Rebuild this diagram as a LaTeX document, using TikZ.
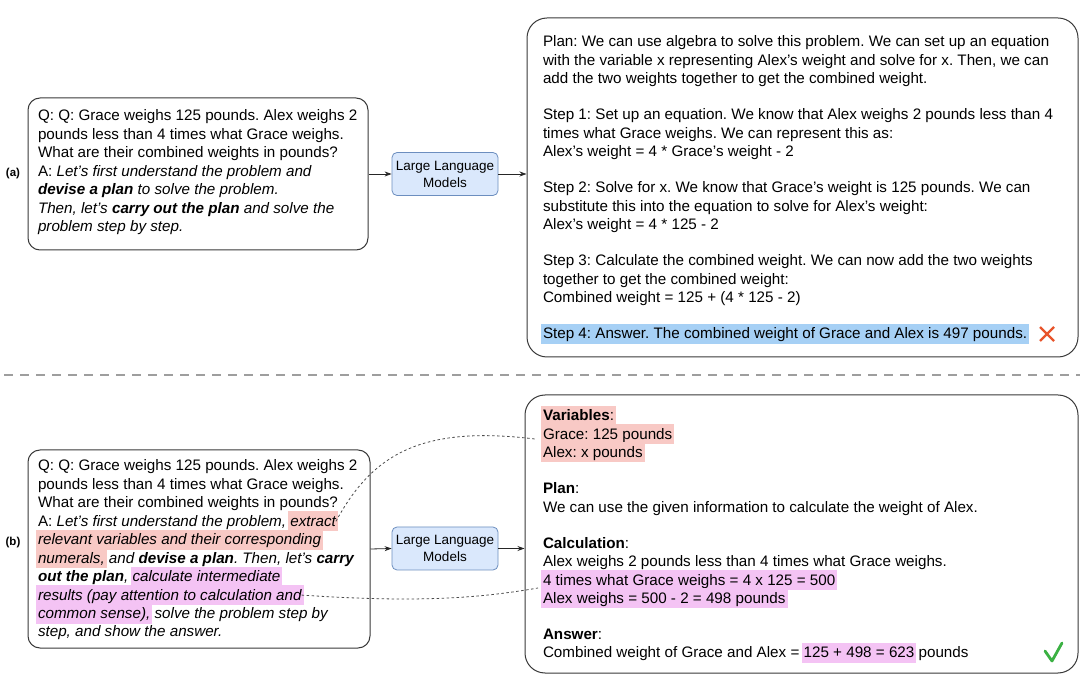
\documentclass[tikz,border=0pt]{standalone}
\usepackage{fontspec}
\setmainfont{Liberation Sans}
\usetikzlibrary{arrows.meta}
\definecolor{hlred}{HTML}{F8C9C5}
\definecolor{hlvio}{HTML}{F4C3F4}
\definecolor{hlblue}{HTML}{A6D0F5}
\definecolor{llmfill}{HTML}{DAE8FC}
\definecolor{llmdraw}{HTML}{6C8EBF}
\definecolor{boxdraw}{HTML}{3A3A3A}
\definecolor{crossred}{HTML}{E8542B}
\definecolor{checkgreen}{HTML}{3BB143}
\newcommand\hlbox[2]{{\setlength{\fboxsep}{0pt}\kern-2pt\colorbox{#1}{\rule[-5pt]{0pt}{20pt}\kern2pt#2\kern2pt}\kern-2pt}}
\tikzset{
  txt/.style={anchor=base west, inner sep=0pt, outer sep=0pt, font=\fontsize{15.2}{18}\selectfont\frenchspacing},
  qbox/.style={draw=boxdraw, line width=1pt, rounded corners=12pt, fill=white, inner sep=0pt},
  obox/.style={draw=boxdraw, line width=1pt, rounded corners=20pt, fill=white, inner sep=0pt},
  llm/.style={draw=llmdraw, fill=llmfill, line width=0.8pt, rounded corners=5pt, align=center,
    minimum width=106, minimum height=43, inner sep=0pt, font=\fontsize{13.5}{17}\selectfont},
  arr/.style={-{Stealth[length=7pt,width=5pt]}, line width=0.8pt, draw=black!85},
  lnk/.style={draw=black!70, line width=0.8pt, dash pattern=on 2.5pt off 2.5pt},
  sepline/.style={draw=black!38, line width=2pt, dash pattern=on 9pt off 7pt},
  tag/.style={inner sep=0pt, font=\bfseries\fontsize{11.5}{13}\selectfont},
}
\begin{document}
\begin{tikzpicture}[x=1pt, y=-1pt]
\fill[white] (0,0) rectangle (1080,692);
\useasboundingbox (0,0) rectangle (1080,692);

% separator
\coordinate (sepl) at (4,375);
\coordinate (sepr) at (1080,375);
\draw[sepline] (sepl) -- (sepr);

% ---------------- (a) ----------------
\node[tag] (taga) at (13,174) {(a)};
\node[qbox, minimum width=340, minimum height=152] (qa) at (198,174) {};
\node[llm] (llma) at (445,174) {Large Language\\Models};
\node[obox, minimum width=551, minimum height=339] (oa) at (802.5,187.5) {};

\foreach \myline [count=\i from 0] in {
  {Q: Q: Grace weighs 125 pounds. Alex weighs 2},
  {pounds less than 4 times what Grace weighs.},
  {What are their combined weights in pounds?},
  {A: \textit{Let's first understand the problem and}},
  {\textit{\textbf{devise a plan} to solve the problem.}},
  {\textit{Then, let's \textbf{carry out the plan} and solve the}},
  {\textit{problem step by step.}}}
  \node[txt] (qa\i) at (38,121+18.5*\i) {\myline};

\foreach \myline [count=\i from 0] in {
  {Plan: We can use algebra to solve this problem. We can set up an equation},
  {with the variable x representing Alex's weight and solve for x. Then, we can},
  {add the two weights together to get the combined weight.},
  {},
  {Step 1: Set up an equation. We know that Alex weighs 2 pounds less than 4},
  {times what Grace weighs. We can represent this as:},
  {Alex's weight = 4 * Grace's weight - 2},
  {},
  {Step 2: Solve for x. We know that Grace's weight is 125 pounds. We can},
  {substitute this into the equation to solve for Alex's weight:},
  {Alex's weight = 4 * 125 - 2},
  {},
  {Step 3: Calculate the combined weight. We can now add the two weights},
  {together to get the combined weight:},
  {Combined weight = 125 + (4 * 125 - 2)},
  {},
  {\hlbox{hlblue}{Step 4: Answer. The combined weight of Grace and Alex is 497 pounds.}}}
  \node[txt] (oa\i) at (543,47+18.25*\i) {\myline};

\draw[crossred, line width=2.3pt] (1040,327) -- (1054,341);
\draw[crossred, line width=2.3pt] (1054,327) -- (1040,341);

\draw[arr] (qa.east) -- (llma.west);
\draw[arr] (llma.east) -- (llma.east -| oa.west);

% ---------------- (b) ----------------
\node[tag] (tagb) at (13,543) {(b)};
\node[qbox, minimum width=342, minimum height=198] (qb) at (199,549) {};
\node[llm] (llmb) at (445,548.5) {Large Language\\Models};
\node[obox, minimum width=553, minimum height=278] (ob) at (801.5,534) {};

\foreach \myline [count=\i from 0] in {
  {Q: Q: Grace weighs 125 pounds. Alex weighs 2},
  {pounds less than 4 times what Grace weighs.},
  {What are their combined weights in pounds?},
  {A: \textit{Let’s first understand the problem, \hlbox{hlred}{extract}}},
  {\textit{\hlbox{hlred}{relevant variables and their corresponding}}},
  {\textit{\hlbox{hlred}{numerals,} and \textbf{devise a plan}. Then, let’s \textbf{carry}}},
  {\textit{\textbf{out the plan}, \hlbox{hlvio}{calculate intermediate}}},
  {\textit{\hlbox{hlvio}{results (pay attention to calculation and}}},
  {\textit{\hlbox{hlvio}{common sense),} solve the problem step by}},
  {\textit{step, and show the answer.}}}
  \node[txt] (qb\i) at (38,471+18.44*\i) {\myline};

\foreach \myline [count=\i from 0] in {
  {\hlbox{hlred}{\textbf{Variables}:}},
  {\hlbox{hlred}{Grace: 125 pounds}},
  {\hlbox{hlred}{Alex: x pounds}},
  {},
  {\textbf{Plan}:},
  {We can use the given information to calculate the weight of Alex.},
  {},
  {\textbf{Calculation}:},
  {Alex weighs 2 pounds less than 4 times what Grace weighs.},
  {\hlbox{hlvio}{4 times what Grace weighs = 4 x 125 = 500}},
  {\hlbox{hlvio}{Alex weighs = 500 - 2 = 498 pounds}},
  {},
  {\textbf{Answer}:},
  {Combined weight of Grace and Alex = \hlbox{hlvio}{125 + 498 = 623} pounds}}
  \node[txt] (ob\i) at (543,421+18.23*\i) {\myline};

\draw[checkgreen, line width=2.8pt, line cap=round, line join=round]
  (1045,651) -- (1052,661) -- (1062,643);

\draw[arr] (qb.east) -- (llmb.west);
\draw[arr] (llmb.east) -- (llmb.east -| ob.west);

% dotted links
\coordinate (vend) at (535,439);
\coordinate (cend) at (538,588);
\draw[lnk] (qb3.east) .. controls (372,455) and (420,425) .. (vend);
\draw[lnk] (qb7.east) .. controls (420,603) and (480,598) .. (cend);
\end{tikzpicture}
\end{document}
